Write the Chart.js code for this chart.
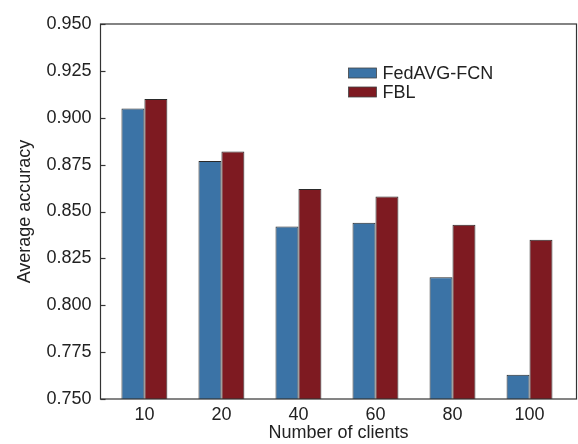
<!DOCTYPE html>
<html>
<head>
<meta charset="utf-8">
<script src="https://cdn.jsdelivr.net/npm/chart.js@4/dist/chart.umd.min.js"></script>
<style>
    html, body { margin: 0; padding: 0; background: #fff; }
    #wrap { width: 578px; height: 444px; }
</style>
</head>
<body>
<div id="wrap"><canvas id="accuracy"></canvas></div>
<script>
// data
const clients = ['10', '20', '40', '60', '80', '100'];
const positions = [1, 2, 3, 4, 5, 6];
const fedavgFcn = [0.905, 0.877, 0.842, 0.844, 0.815, 0.763];
const fbl = [0.910, 0.882, 0.862, 0.858, 0.843, 0.835];
const yTicks = [0.750, 0.775, 0.800, 0.825, 0.850, 0.875, 0.900, 0.925, 0.950];

const blue = '#3b73a6';
const red = '#7e1a21';
const fontFam = 'Arial, "Liberation Sans", Helvetica, sans-serif';

// frame, inward ticks and legend in the plot box
const boxPlugin = {
    id: 'box',
    afterDraw(chart) {
        const ctx = chart.ctx;
        const a = chart.chartArea;
        const y = chart.scales.y;
        ctx.save();
        ctx.strokeStyle = '#333';
        ctx.lineWidth = 1.2;
        ctx.strokeRect(a.left, a.top, a.right - a.left, a.bottom - a.top);
        yTicks.forEach(v => {
            const py = Math.round(y.getPixelForValue(v)) + 0.5;
            ctx.beginPath();
            ctx.moveTo(a.left, py);
            ctx.lineTo(a.left + 5, py);
            ctx.stroke();
        });

        // legend
        const lx = a.left + 248, ly = a.top + 44;
        chart.data.datasets.forEach((ds, i) => {
            const yy = ly + i * 19;
            ctx.fillStyle = ds.backgroundColor;
            ctx.fillRect(lx, yy, 28, 10);
            ctx.strokeStyle = '#444';
            ctx.lineWidth = 0.8;
            ctx.strokeRect(lx, yy, 28, 10);
            ctx.fillStyle = '#222';
            ctx.font = '18px ' + fontFam;
            ctx.textBaseline = 'middle';
            ctx.textAlign = 'left';
            ctx.fillText(ds.label, lx + 34, yy + 6);
        });
        ctx.restore();
    }
};

new Chart(document.getElementById('accuracy'), {
    type: 'bar',
    data: {
        datasets: [{
            label: 'FedAVG-FCN',
            data: positions.map((p, i) => ({x: p, y: fedavgFcn[i]})),
            backgroundColor: blue,
            borderColor: '#2a2a2a',
            borderWidth: 1,
            barPercentage: 1,
            categoryPercentage: 0.596
        }, {
            label: 'FBL',
            data: positions.map((p, i) => ({x: p, y: fbl[i]})),
            backgroundColor: red,
            borderColor: '#2a2a2a',
            borderWidth: 1,
            barPercentage: 1,
            categoryPercentage: 0.596
        }]
    },
    options: {
        responsive: true,
        maintainAspectRatio: false,
        animation: false,
        layout: { padding: { top: 24, right: 1.5, left: 0, bottom: 0 } },
        plugins: {
            legend: { display: false },
            tooltip: { enabled: false }
        },
        scales: {
            x: {
                type: 'linear',
                offset: false,
                min: 0.43,
                max: 6.61,
                grid: { display: false, drawTicks: false, offset: false },
                border: { display: false },
                afterFit: s => { s.height = 45; },
                afterBuildTicks: s => { s.ticks = positions.map(v => ({value: v})); },
                ticks: {
                    padding: 5,
                    color: '#222',
                    font: { size: 18, family: fontFam },
                    callback: (v) => clients[positions.indexOf(v)]
                },
                title: {
                    display: true,
                    text: 'Number of clients',
                    color: '#222',
                    font: { size: 18, family: fontFam },
                    padding: { top: 0, bottom: 0 }
                }
            },
            y: {
                min: 0.75,
                max: 0.95,
                grid: { display: false, drawTicks: false },
                border: { display: false },
                afterFit: s => { s.width = 100.5; },
                afterBuildTicks: s => { s.ticks = yTicks.map(v => ({value: v})); },
                ticks: {
                    padding: 9,
                    color: '#222',
                    font: { size: 18, family: fontFam },
                    callback: v => v.toFixed(3)
                },
                title: {
                    display: true,
                    text: 'Average accuracy',
                    color: '#222',
                    font: { size: 18, family: fontFam },
                    padding: { top: 14, bottom: 0 }
                }
            }
        }
    },
    plugins: [boxPlugin]
});
</script>
</body>
</html>
